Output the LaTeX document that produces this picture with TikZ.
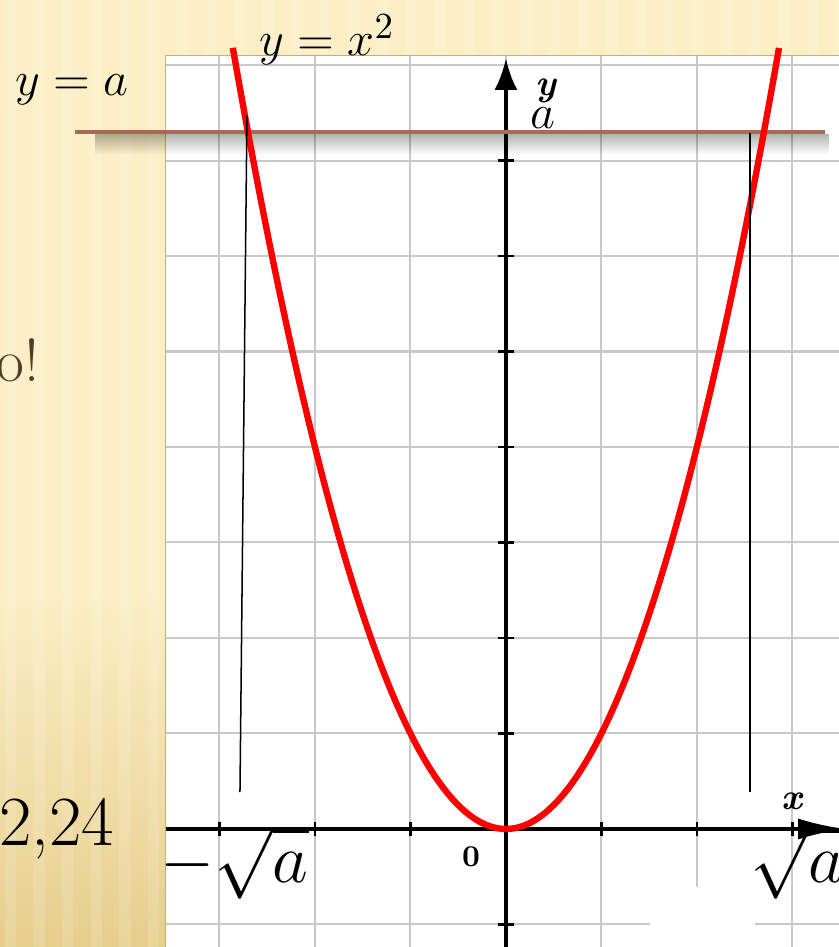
\documentclass[tikz,border=0pt]{standalone}
\usepackage{amsmath}
\usepackage{xcolor}
\usetikzlibrary{arrows.meta,fadings}

\definecolor{paper}{RGB}{252,239,198}
\definecolor{paperdark}{RGB}{230,205,140}
\definecolor{levelline}{RGB}{168,105,85}
\definecolor{gridgray}{RGB}{200,200,200}
\definecolor{curvered}{RGB}{255,0,0}
\definecolor{textbrown}{RGB}{80,60,45}

\tikzset{
  axis/.style={line width=1.2pt},
  tickmark/.style={line width=0.8pt},
  projline/.style={line width=0.45pt},
  bigmath/.style={font=\fontsize{20}{24}\selectfont},
  midmath/.style={font=\fontsize{15}{18}\selectfont},
  axislabel/.style={font=\fontsize{11}{13}\selectfont\bfseries\itshape}
}

\begin{document}
\begin{tikzpicture}[x=1cm, y=1cm]
  \useasboundingbox (-5.298,-1.236) rectangle (3.487,8.681);
  \clip (-5.298,-1.236) rectangle (3.487,8.681);

  % Background
  \fill[paper] (-5.3,-1.3) rectangle (3.6,8.7);
  \shade[top color=paper, bottom color=paperdark] (-5.3,-1.3) rectangle (3.6,2.5);
  \foreach \s in {-5.25,-4.95,...,3.5}
    \fill[white, opacity=0.13] (\s,-1.3) rectangle ++(0.12,10);

  % Grid
  \fill[white] (-3.56,-1.3) rectangle (3.6,8.1);
  \draw[gridgray, line width=0.6pt] (-3.56,-1.3) grid (3.6,8.1);
  \draw[paperdark!85!black, line width=0.3pt] (-3.56,-1.3) -- (-3.56,8.1) -- (3.6,8.1);
  \fill[white] (1.508,-1.3) rectangle (2.607,-0.607);

  % Axes
  \draw[axis, -{Latex[length=3.3mm, width=2.4mm]}] (0,-1.3) -- (0,8.07);
  \draw[axis, -{Latex[length=5mm, width=2.2mm]}] (-3.56,0) -- (3.56,0);
  \foreach \k in {-1,1,2,...,7}
    \draw[tickmark] (-0.084,\k) -- (0.084,\k);
  \foreach \k in {-3,-2,-1,1,2,3}
    \draw[tickmark] (\k,-0.075) -- (\k,0.075);

  % Level line y = a with its shadow
  \fill[black, opacity=0.3, path fading=south] (-4.3,7.06) rectangle (3.38,7.28);
  \draw[levelline, line width=1.3pt] (-4.513,7.3) -- (3.34,7.3);

  % Parabola
  \draw[curvered, line width=1.9pt, domain=-2.86:2.86, samples=120] plot (\x,{\x*\x});

  % Projections of the roots
  \draw[projline] (-2.712,7.466) -- (-2.785,0.387);
  \draw[projline] (2.555,7.288) -- (2.555,0.387);

  % Labels
  \node[axislabel] (ylab) at (0.419,7.73) {y};
  \node[axislabel] (xlab) at (2.995,0.293) {x};
  \node[font=\fontsize{9}{11}\selectfont\bfseries] (zero) at (-0.366,-0.293) {0};
  \node[midmath] (alab) at (0.387,7.445) {$a$};
  \node[midmath] (lineeq) at (-4.545,7.738) {$y=a$};
  \node[midmath] (curveeq) at (-1.874,8.262) {$y=x^{2}$};
  \node[bigmath] (rootneg) at (-2.84,-0.36) {$-\sqrt{a}$};
  \node[bigmath] (rootpos) at (3.05,-0.36) {$\sqrt{a}$};
  \node[font=\fontsize{21}{25}\selectfont, anchor=base east, inner sep=0pt] (approx) at (-4.094,-0.168) {2,24};
  \node[font=\fontsize{18}{22}\selectfont, text=textbrown, anchor=base east, inner sep=0pt] (remark) at (-4.88,4.681) {o!};
\end{tikzpicture}
\end{document}
